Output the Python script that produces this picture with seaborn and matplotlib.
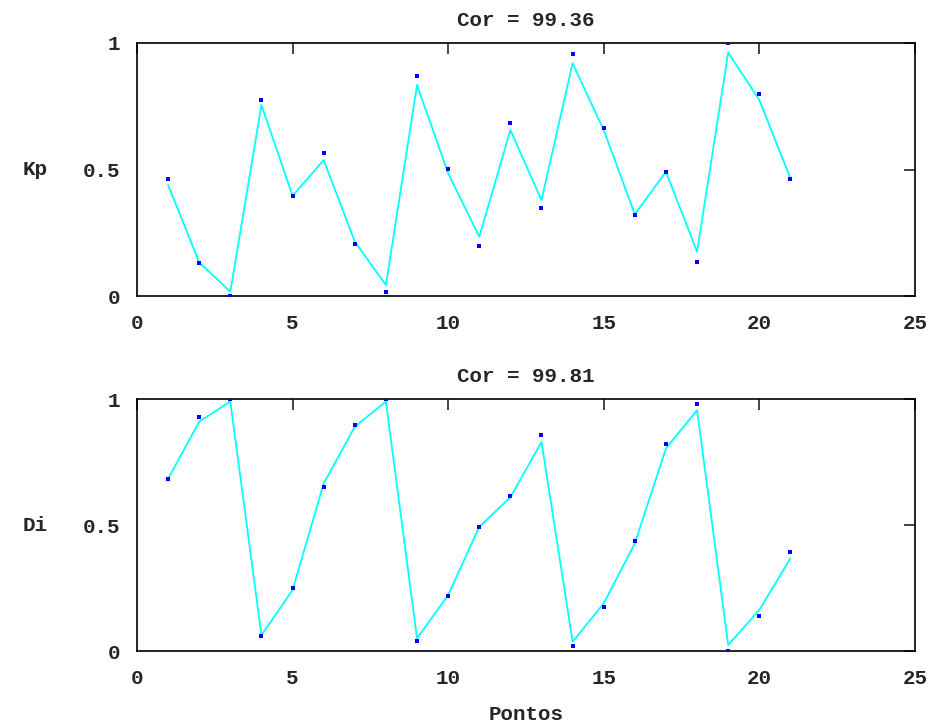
import numpy as np
import pandas as pd
import matplotlib
matplotlib.use("Agg")
import matplotlib.pyplot as plt
import seaborn as sns

sns.set_style("white")
plt.rcParams['font.family'] = ['Liberation Mono', 'DejaVu Sans']
plt.rcParams['font.weight'] = 'bold'

# data
pontos = list(range(1, 22))

kp_alvo = [0.462, 0.129, 0.0, 0.776, 0.396, 0.566, 0.207, 0.017, 0.871, 0.503, 0.199,
           0.685, 0.348, 0.958, 0.665, 0.320, 0.491, 0.133, 1.0, 0.80, 0.462]
kp_rede = [0.439, 0.133, 0.017, 0.755, 0.396, 0.537, 0.215, 0.043, 0.834, 0.485, 0.234,
           0.656, 0.379, 0.920, 0.656, 0.323, 0.491, 0.175, 0.962, 0.775, 0.465]

di_alvo = [0.683, 0.930, 1.0, 0.060, 0.251, 0.649, 0.897, 1.0, 0.041, 0.218, 0.492,
           0.615, 0.857, 0.021, 0.176, 0.438, 0.821, 0.980, 0.0, 0.140, 0.394]
di_rede = [0.683, 0.910, 0.990, 0.063, 0.242, 0.665, 0.890, 0.990, 0.050, 0.222, 0.493,
           0.610, 0.830, 0.037, 0.189, 0.427, 0.804, 0.956, 0.024, 0.163, 0.368]

titulos = ["Cor = 99.36", "Cor = 99.81"]
rotulos = ["Kp", "Di"]
xticks = [0, 5, 10, 15, 20, 25]
yticks = [0, 0.5, 1]
ytick_labels = ["0", "0.5", "1"]

fig = plt.figure(figsize=(9.35, 7.25), dpi=100)
ax1 = fig.add_axes([0.1465, 0.5917, 0.832, 0.349])
ax2 = fig.add_axes([0.1465, 0.102, 0.832, 0.3476])

series = [(kp_alvo, kp_rede), (di_alvo, di_rede)]
for ax, (alvo, rede), tit, rot in zip([ax1, ax2], series, titulos, rotulos):
    df = pd.DataFrame({"Pontos": pontos, "alvo": alvo, "rede": rede})
    sns.lineplot(data=df, x="Pontos", y="rede", ax=ax, color="cyan", linewidth=1.3)
    sns.scatterplot(data=df, x="Pontos", y="alvo", ax=ax, color="blue", marker="s",
                    s=10, linewidth=0, zorder=3)
    ax.set_xlim(0, 25)
    ax.set_ylim(0, 1)
    ax.set_xticks(xticks)
    ax.set_yticks(yticks)
    ax.set_yticklabels(ytick_labels)
    ax.tick_params(direction="in", length=8, width=1.2, top=True, right=True,
                   labelsize=15)
    ax.tick_params(axis="x", pad=13)
    ax.tick_params(axis="y", pad=12)
    for s in ax.spines.values():
        s.set_linewidth(1.2)
        s.set_color("black")
    ax.set_title(tit, fontsize=15, fontweight="bold", pad=12)
    ax.set_ylabel(rot, fontsize=15, fontweight="bold", rotation=0, labelpad=34,
                  va="center")
    ax.set_xlabel("")

ax2.set_xlabel("Pontos", fontsize=15, fontweight="bold", labelpad=12)

plt.savefig("out.png", dpi=100)
